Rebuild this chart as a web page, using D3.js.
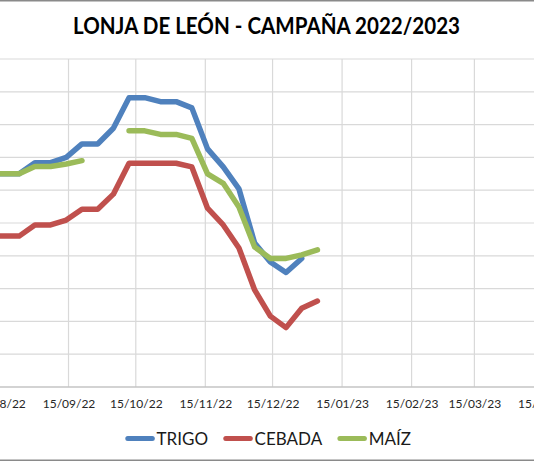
<!DOCTYPE html>
<html><head><meta charset="utf-8">
<script src="https://cdn.jsdelivr.net/npm/d3@7"></script>
<style>html,body{margin:0;padding:0;background:#fff;overflow:hidden}</style>
</head><body><svg id="c" width="534" height="462"></svg>
<script>
// Weekly quotations (Wednesdays)
const dates = ["2022-08-10","2022-08-17","2022-08-24","2022-08-31","2022-09-07","2022-09-14","2022-09-21","2022-09-28",
  "2022-10-05","2022-10-12","2022-10-19","2022-10-26","2022-11-02","2022-11-09","2022-11-16","2022-11-23",
  "2022-11-30","2022-12-07","2022-12-14","2022-12-21","2022-12-28","2023-01-04"];
const trigo  = [315,315,315,318.4,318.4,320,324.1,324.1,328.9,338.2,338.2,337,337,335.1,322.6,317.1,310.4,293.9,288.1,284.9,289.2,null];
const cebada = [296,296,296,299.4,299.4,300.9,304.2,304.2,308.8,318.2,318.2,318.2,318.2,317.1,304.5,299.4,292.4,279.6,271.6,268.1,274,276.2];
const maiz   = [315,315,315,317.2,317.2,318,319,null,null,328.1,328.1,327,327,325.8,315,312.1,304.9,292.7,289.2,289.2,290.3,291.8];
const seriesNames = ["TRIGO","CEBADA","MAÍZ"];
const seriesColors = ["#4F81BD","#C0504D","#9BBB59"];
const tickDates = ["2022-08-15","2022-09-15","2022-10-15","2022-11-15","2022-12-15","2023-01-15","2023-02-15","2023-03-15","2023-04-15"];
const yTicks = [250,260,270,280,290,300,310,320,330,340,350];
const title = "LONJA DE LEÓN - CAMPAÑA 2022/2023";

const svg = d3.select("#c");
const parse = d3.utcParse("%Y-%m-%d");
const fmt = d3.utcFormat("%d/%m/%y");

svg.append("rect").attr("x",-5).attr("y",0.75).attr("width",544).attr("height",459.5)
  .attr("fill","#fff").attr("stroke","#8a8a8a").attr("stroke-width",1.5);

const x = d3.scaleUtc().domain([parse("2022-08-15"), parse("2023-04-15")]).range([-1.0, 543.9]);
const y = d3.scaleLinear().domain([250,350]).range([387,59]);

// horizontal gridlines
svg.append("g").selectAll("line").data(yTicks.slice(1)).join("line")
  .attr("x1",-30).attr("x2",570).attr("y1",d=>y(d)).attr("y2",d=>y(d))
  .attr("stroke","#d9d9d9").attr("stroke-width",1.2);
// vertical gridlines
svg.append("g").selectAll("line").data(tickDates.map(parse)).join("line")
  .attr("x1",d=>x(d)).attr("x2",d=>x(d)).attr("y1",y(350)).attr("y2",y(250))
  .attr("stroke","#d9d9d9").attr("stroke-width",1.2);
// x axis line
svg.append("line").attr("x1",-30).attr("x2",570).attr("y1",y(250)).attr("y2",y(250))
  .attr("stroke","#c4c4c4").attr("stroke-width",1.4);

// x tick labels
const xAxis = d3.axisBottom(x).tickValues(tickDates.map(parse)).tickFormat(fmt).tickSize(0).tickPadding(12);
const gx = svg.append("g").attr("transform",`translate(0,${y(250)})`).call(xAxis);
gx.select(".domain").remove();
gx.selectAll("text").attr("font-family","Lato, sans-serif").attr("font-size","12px").attr("fill","#262626");

// series
const allSeries = [trigo, cebada, maiz];
const line = d3.line().defined(d=>d.v!=null).x(d=>x(d.t)).y(d=>y(d.v));
allSeries.forEach((vals,i)=>{
  const pts = dates.map((d,j)=>({t:parse(d), v:vals[j]}));
  svg.append("path").attr("d",line(pts)).attr("fill","none")
    .attr("stroke",seriesColors[i]).attr("stroke-width",5.5)
    .attr("stroke-linejoin","round").attr("stroke-linecap","round");
});

// title
svg.append("text").attr("x",266.5).attr("y",34).attr("text-anchor","middle")
  .attr("font-family","Lato, sans-serif").attr("font-weight","bold").attr("font-size","22.6px")
  .attr("fill","#000").attr("textLength",387).attr("lengthAdjust","spacingAndGlyphs").text(title);

// legend
const lg = svg.append("g");
let cx = 0;
const items = [];
seriesNames.forEach((n,i)=>{
  const g = lg.append("g");
  g.append("line").attr("x1",2.75).attr("x2",27.25).attr("y1",438.5).attr("y2",438.5)
    .attr("stroke",seriesColors[i]).attr("stroke-width",5).attr("stroke-linecap","round");
  const t = g.append("text").attr("x",31.5).attr("y",444.5).attr("font-family","Lato, sans-serif")
    .attr("font-size","17px").attr("fill","#1a1a1a").text(n);
  const w = 31.5 + t.node().getComputedTextLength();
  g.attr("transform",`translate(${cx},0)`);
  cx += w + 15;
});
const total = cx - 15;
lg.attr("transform",`translate(${268 - total/2},0)`);
</script></body></html>
